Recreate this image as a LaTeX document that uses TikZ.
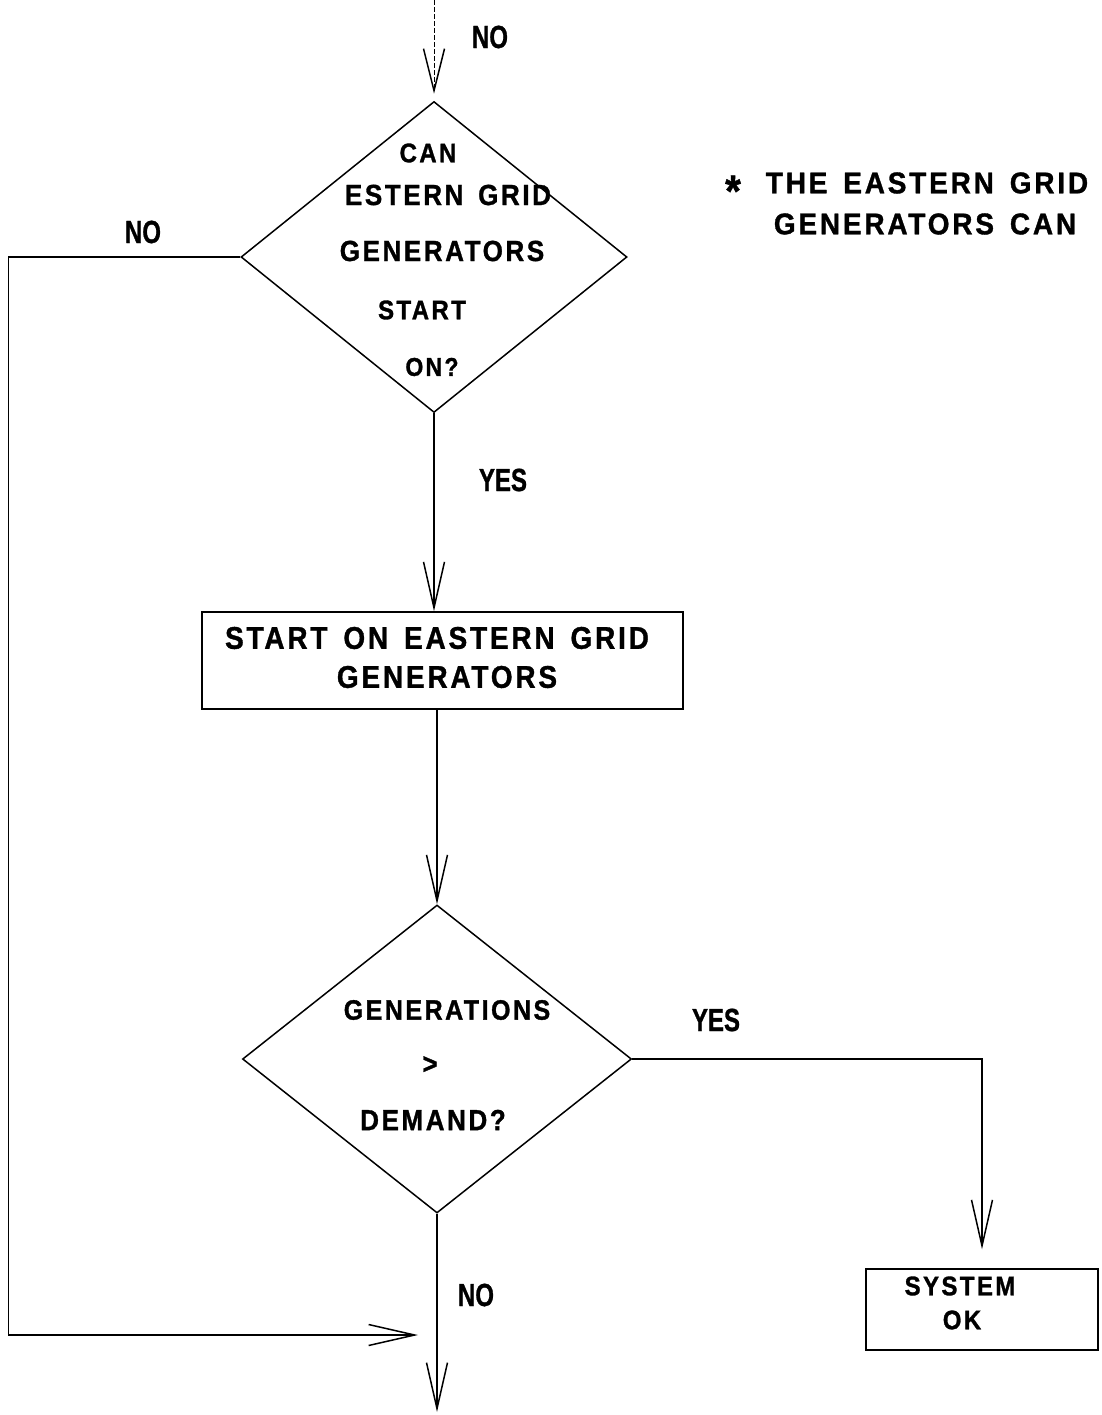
\documentclass[tikz,border=0pt]{standalone}
\usepackage{fontspec}
\setmainfont{Liberation Sans}
\newfontfamily\widesans{Liberation Sans Bold}[LetterSpace=10,WordSpace=1.5,FakeBold=1.2]
\newfontfamily\labelsans{Liberation Sans Bold}[FakeBold=1.2]
\usetikzlibrary{shapes.geometric,arrows.meta}

\begin{document}
\begin{tikzpicture}[x=1pt,y=-1pt,
  line width=1.5pt,
  barb/.tip={Straight Barb[length=46pt,width=21pt,line width=1.5pt]},
  flow/.style={-barb},
  decision/.style={diamond, draw, inner sep=0pt},
  process/.style={rectangle, draw, inner sep=0pt},
  txt/.style={font=\widesans\fontsize{#1}{#1}\selectfont, yscale=1.12, inner sep=0pt},
  txt/.default=26,
  lbl/.style={font=\labelsans\fontsize{32}{32}\selectfont, xscale=0.75, inner sep=0pt},
]
\useasboundingbox (0,0) rectangle (1101,1415);

% shapes
\node[decision, minimum width=386pt, minimum height=311pt] (d1) at (434,257) {};
\node[process, minimum width=481pt, minimum height=97pt] (r1) at (442.5,660.5) {};
\node[decision, minimum width=389pt, minimum height=308pt] (d2) at (437,1059) {};
\node[process, minimum width=232pt, minimum height=81pt] (ok) at (982,1309.5) {};

% texts of the first decision
\node[txt=24] (d1a) at (428,153) {CAN};
\node[txt] (d1b) at (448,195) {ESTERN GRID};
\node[txt] (d1c) at (442,251) {GENERATORS};
\node[txt=24] (d1d) at (422,310) {START};
\node[txt=23] (d1e) at (432,367) {ON?};

% process text
\node[txt=28] (r1a) at (437,638) {START ON EASTERN GRID};
\node[txt=28] (r1b) at (447,677) {GENERATORS};

% texts of the second decision
\node[txt=25] (d2a) at (447,1010) {GENERATIONS};
\node[txt=26] (d2b) at (430,1065) {>};
\node[txt=26] (d2c) at (433,1120) {DEMAND?};

% result box
\node[txt=24] (oka) at (960,1286) {SYSTEM};
\node[txt=24] (okb) at (962,1320) {OK};

% side note
\node[txt=40] (star) at (733,191) {*};
\node[txt=25, xscale=1.12, yscale=1.07] (n1) at (927,183) {THE EASTERN GRID};
\node[txt=25, xscale=1.12, yscale=1.07] (n2) at (925,224) {GENERATORS CAN};

% branch labels
\node[lbl] (l1) at (490,37) {NO};
\node[lbl] (l2) at (143,232) {NO};
\node[lbl] (l3) at (503,480) {YES};
\node[lbl] (l4) at (716,1020) {YES};
\node[lbl] (l5) at (476,1295) {NO};

% connectors
\coordinate (in) at (434,0);
\coordinate (merge) at (437,1335);
\coordinate (out) at (437,1412);

\draw[-{Straight Barb[length=42pt,width=21pt,line width=1.5pt]}, line width=0.7pt, dash pattern=on 5pt off 2pt, shorten >=7pt] (in) -- (d1.north);
\draw[flow] (d1.south) -- (d1.south |- r1.north);
\draw[flow] (r1.south -| d2.north) -- (d2.north);
\draw[flow, shorten >=19pt] (d2.east) -| (ok.north);
\draw[flow] (d2.south) -- (out);
\draw[flow, shorten >=19pt] (d1.west) -- ++(-232,0) |- (merge);
\end{tikzpicture}
\end{document}
